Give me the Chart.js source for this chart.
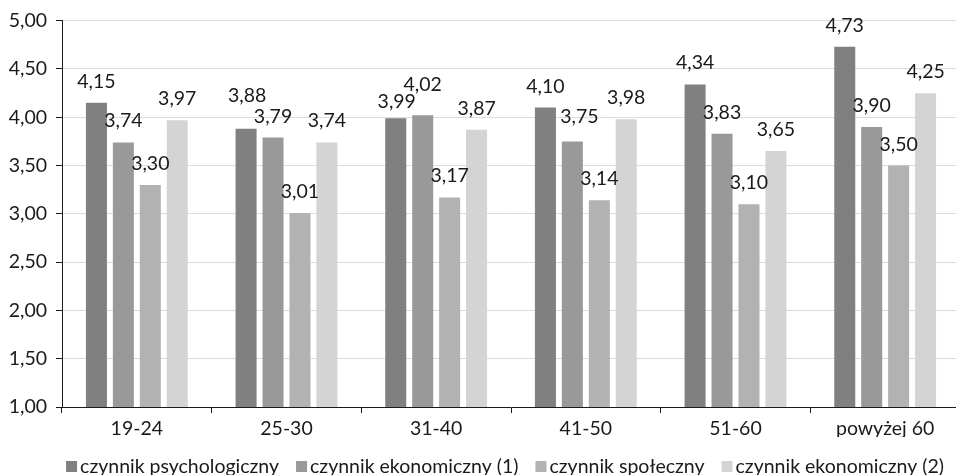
<!DOCTYPE html>
<html>
<head>
<meta charset="utf-8">
<script src="https://cdn.jsdelivr.net/npm/chart.js@4/dist/chart.umd.min.js"></script>
<style>
  html, body { margin: 0; padding: 0; background: #fff; overflow: hidden; }
  #wrap { width: 962px; height: 475px; }
</style>
</head>
<body>
<div id="wrap"><canvas id="c" width="962" height="475"></canvas></div>
<script>
// Age groups and mean factor scores
const categories = ['19-24', '25-30', '31-40', '41-50', '51-60', 'powyżej 60'];
const seriesNames = ['czynnik psychologiczny', 'czynnik ekonomiczny (1)', 'czynnik społeczny', 'czynnik ekonomiczny (2)'];
const psychologiczny = [4.15, 3.88, 3.99, 4.10, 4.34, 4.73];
const ekonomiczny1   = [3.74, 3.79, 4.02, 3.75, 3.83, 3.90];
const spoleczny      = [3.30, 3.01, 3.17, 3.14, 3.10, 3.50];
const ekonomiczny2   = [3.97, 3.74, 3.87, 3.98, 3.65, 4.25];
const yTicks = [1.0, 1.5, 2.0, 2.5, 3.0, 3.5, 4.0, 4.5, 5.0];

const colors = ['#7f807f', '#999999', '#b2b2b2', '#d3d4d3'];
const seriesValues = [psychologiczny, ekonomiczny1, spoleczny, ekonomiczny2];
const FONT = 'Lato, "Open Sans", sans-serif';
const FS = 19.5;
const TEXT = '#1a1a1a';

const fmt = v => v.toFixed(2).replace('.', ',');

// Value labels drawn above each bar; a few are nudged apart where neighbours collide
const labelNudge = {
  '1,0': [1, -12],   // category index, dataset index -> [dx, dy]
  '2,0': [1, 5],
  '2,1': [0, -9],
  '3,1': [7, -3]
};
const valueLabels = {
  id: 'valueLabels',
  afterDatasetsDraw(chart) {
    const ctx = chart.ctx;
    ctx.save();
    ctx.font = FS + 'px ' + FONT;
    ctx.fillStyle = TEXT;
    ctx.textAlign = 'center';
    ctx.textBaseline = 'alphabetic';
    chart.data.datasets.forEach((ds, i) => {
      chart.getDatasetMeta(i).data.forEach((bar, j) => {
        const [dx, dy] = labelNudge[j + ',' + i] || [0, 0];
        ctx.fillText(fmt(ds.data[j]), bar.x + dx, bar.y - 15 + dy);
      });
    });
    ctx.restore();
  }
};

// Compact legend row: small square swatch tight against its label
const compactLegend = {
  id: 'compactLegend',
  afterDraw(chart) {
    const ctx = chart.ctx;
    const box = 11, boxGap = 3, itemGap = 17;
    const centerX = 505, centerY = 466.5;
    ctx.save();
    ctx.font = FS + 'px ' + FONT;
    const items = chart.data.datasets.map(ds => ({
      text: ds.label,
      color: ds.backgroundColor,
      w: ctx.measureText(ds.label).width
    }));
    const total = items.reduce((s, it) => s + box + boxGap + it.w, 0) + itemGap * (items.length - 1);
    let x = centerX - total / 2;
    ctx.textAlign = 'left';
    ctx.textBaseline = 'middle';
    items.forEach(it => {
      ctx.fillStyle = it.color;
      ctx.fillRect(x, centerY - box / 2, box, box);
      ctx.fillStyle = TEXT;
      ctx.fillText(it.text, x + box + boxGap, centerY);
      x += box + boxGap + it.w + itemGap;
    });
    ctx.restore();
  }
};

new Chart(document.getElementById('c'), {
  type: 'bar',
  data: {
    labels: categories,
    datasets: seriesNames.map((name, i) => ({
      label: name,
      data: seriesValues[i],
      backgroundColor: colors[i],
      borderWidth: 0,
      categoryPercentage: 0.72,
      barPercentage: 0.78
    }))
  },
  options: {
    responsive: false,
    animation: false,
    layout: { padding: { top: 14, right: 2, left: 0, bottom: 38 } },
    plugins: {
      legend: { display: false },
      tooltip: { enabled: false }
    },
    scales: {
      x: {
        grid: {
          display: true,
          drawOnChartArea: false,
          drawTicks: true,
          tickLength: 6,
          color: TEXT,
          offset: true
        },
        border: { display: true, color: TEXT, width: 1 },
        ticks: { color: TEXT, font: { family: FONT, size: FS }, padding: 4 },
        afterFit(scale) { scale.height = 30; }
      },
      y: {
        min: 1,
        max: 5,
        afterBuildTicks(scale) { scale.ticks = yTicks.map(v => ({ value: v })); },
        grid: {
          color: '#dcdcdc',
          lineWidth: 1,
          drawTicks: true,
          tickLength: 6,
          tickColor: TEXT
        },
        border: { display: true, color: TEXT, width: 1 },
        ticks: {
          color: TEXT,
          font: { family: FONT, size: FS },
          padding: 9,
          callback: v => fmt(v)
        },
        afterFit(scale) { scale.width = 62; }
      }
    }
  },
  plugins: [valueLabels, compactLegend]
});
</script>
</body>
</html>
